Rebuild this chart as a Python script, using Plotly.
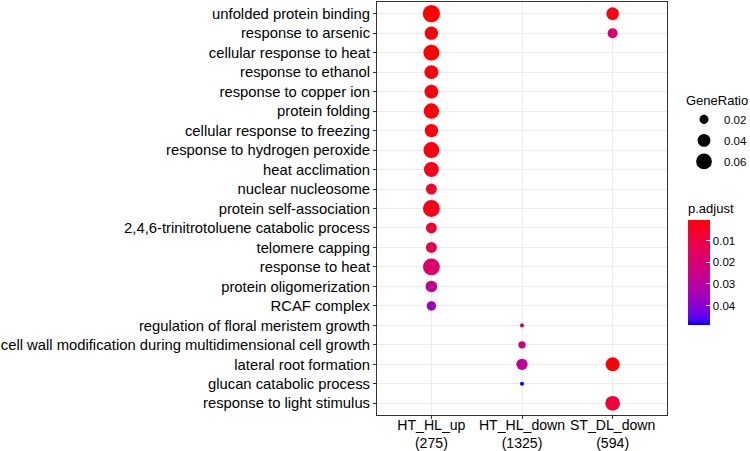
import numpy as np
import plotly.graph_objects as go

# ---------------- data ----------------
terms = [
    "unfolded protein binding",
    "response to arsenic",
    "cellular response to heat",
    "response to ethanol",
    "response to copper ion",
    "protein folding",
    "cellular response to freezing",
    "response to hydrogen peroxide",
    "heat acclimation",
    "nuclear nucleosome",
    "protein self-association",
    "2,4,6-trinitrotoluene catabolic process",
    "telomere capping",
    "response to heat",
    "protein oligomerization",
    "RCAF complex",
    "regulation of floral meristem growth",
    "cell wall modification during multidimensional cell growth",
    "lateral root formation",
    "glucan catabolic process",
    "response to light stimulus",
]
clusters = ["HT_HL_up", "HT_HL_down", "ST_DL_down"]
cluster_sizes = [275, 1325, 594]

pt_cluster = (["HT_HL_up"] * 16 + ["HT_HL_down"] * 4 + ["ST_DL_down"] * 4)
pt_term = terms[:16] + [
    "regulation of floral meristem growth",
    "cell wall modification during multidimensional cell growth",
    "lateral root formation",
    "glucan catabolic process",
    "unfolded protein binding",
    "response to arsenic",
    "lateral root formation",
    "response to light stimulus",
]
pt_ratio = [0.0727, 0.0436, 0.0618, 0.0473, 0.0473, 0.0582, 0.0436, 0.0618,
            0.0545, 0.0291, 0.0691, 0.0291, 0.0291, 0.0691, 0.0327, 0.0218,
            0.0040, 0.0130, 0.0310, 0.0040,
            0.0390, 0.0245, 0.0480, 0.0530]
pt_padj = [0.0005, 0.0010, 0.0008, 0.0015, 0.0015, 0.0010, 0.0020, 0.0020,
           0.0030, 0.0050, 0.0030, 0.0080, 0.0120, 0.0180, 0.0260, 0.0360,
           0.0180, 0.0200, 0.0280, 0.0490,
           0.0020, 0.0180, 0.0010, 0.0080]

size_breaks = [0.02, 0.04, 0.06]
padj_ticks = [0.01, 0.02, 0.03, 0.04]

# ---------------- styling helpers ----------------
SIZE_K = 64.0
# plotly area mode: diameter = sqrt(2 * v / sizeref)
sizeref = 2.0 / SIZE_K ** 2


def lab_to_hex(L, a, b):
    fy = (L + 16) / 116
    fx = fy + a / 500
    fz = fy - b / 200

    def finv(t):
        return t ** 3 if t > 6 / 29 else 3 * (6 / 29) ** 2 * (t - 4 / 29)

    X, Y, Z = 0.95047 * finv(fx), 1.0 * finv(fy), 1.08883 * finv(fz)
    r = 3.2406 * X - 1.5372 * Y - 0.4986 * Z
    g = -0.9689 * X + 1.8758 * Y + 0.0415 * Z
    bb = 0.0557 * X - 0.2040 * Y + 1.0570 * Z

    def gam(v):
        v = 12.92 * v if v <= 0.0031308 else 1.055 * v ** (1 / 2.4) - 0.055
        return int(round(min(max(v, 0), 1) * 255))

    return "#%02x%02x%02x" % (gam(r), gam(g), gam(bb))


red_lab = (53.24, 80.09, 67.20)
blue_lab = (32.30, 79.19, -107.86)
stops = np.linspace(0, 1, 21)
# reversed scale: 0 -> blue (high p), 1 -> red (low p) ; colour value = -p
colorscale = []
for t in stops:
    s = 1 - t
    L = red_lab[0] + (blue_lab[0] - red_lab[0]) * s
    A = red_lab[1] + (blue_lab[1] - red_lab[1]) * s
    B = red_lab[2] + (blue_lab[2] - red_lab[2]) * s
    colorscale.append([float(t), lab_to_hex(L, A, B)])

neg_p = [-v for v in pt_padj]

PLOT_TOP, PLOT_BOTTOM = 2, 415
PLOT_LEFT, PLOT_RIGHT = 377, 667
ph = PLOT_BOTTOM - PLOT_TOP
pw = PLOT_RIGHT - PLOT_LEFT

fig = go.Figure()
fig.add_trace(go.Scatter(
    x=pt_cluster, y=pt_term, mode="markers", showlegend=False,
    marker=dict(
        size=pt_ratio, sizemode="area", sizeref=sizeref, sizemin=1,
        color=neg_p, colorscale=colorscale,
        cmin=-max(pt_padj), cmax=-min(pt_padj),
        line=dict(width=0), opacity=1,
        showscale=True,
        colorbar=dict(
            title=dict(text="p.adjust", side="top", font=dict(size=13, color="black")),
            x=1 + (688 - PLOT_RIGHT) / pw, xanchor="left",
            y=(PLOT_BOTTOM - 200) / ph, yanchor="top",
            len=125, lenmode="pixels", thickness=22,
            xpad=0, ypad=0, outlinewidth=0,
            tickvals=[-v for v in padj_ticks],
            ticktext=[f"{v:.2f}" for v in padj_ticks],
            ticks="inside", tickcolor="white", ticklen=4,
            tickfont=dict(size=11.5, color="black"),
        ),
    ),
))

for i, b in enumerate(size_breaks):
    fig.add_trace(go.Scatter(
        x=[None], y=[None], mode="markers", name=f"{b:.2f}",
        legendgroup=f"g{i}",
        marker=dict(size=float(SIZE_K * np.sqrt(b)), color="black"),
        showlegend=True,
    ))

axis_common = dict(
    type="category", showgrid=True, gridcolor="#EBEBEB", gridwidth=1,
    showline=True, mirror=True, linecolor="#333333", linewidth=1,
    ticks="outside", ticklen=3, tickcolor="#333333", zeroline=False,
    automargin=False, tickmode="array",
)

fig.update_layout(
    width=750, height=451,
    margin=dict(l=PLOT_LEFT, r=750 - PLOT_RIGHT, t=PLOT_TOP, b=451 - PLOT_BOTTOM,
                autoexpand=False),
    plot_bgcolor="white", paper_bgcolor="white",
    font=dict(family="Liberation Sans, Arial, sans-serif", color="black"),
    xaxis=dict(axis_common, categoryorder="array", categoryarray=clusters,
               tickvals=clusters, tickangle=0, ticklabelstandoff=-6,
               ticktext=[f"{c}<br>({n})" for c, n in zip(clusters, cluster_sizes)],
               range=[-0.6, 2.6], tickfont=dict(size=14.1, color="black")),
    yaxis=dict(axis_common, categoryorder="array", categoryarray=terms[::-1],
               tickvals=terms,
               range=[-0.6, 20.6], tickfont=dict(size=14.8, color="black")),
    legend=dict(
        title=dict(text="GeneRatio", font=dict(size=13, color="black")),
        x=1 + (684 - PLOT_RIGHT) / pw, xanchor="left",
        y=(PLOT_BOTTOM - 88) / ph, yanchor="top",
        itemsizing="trace", font=dict(size=11.5, color="black"),
        bgcolor="rgba(0,0,0,0)", tracegroupgap=2,
    ),
)

fig.write_html("out.html", config={"displayModeBar": False},
               post_script="document.body.style.margin='0px';")
